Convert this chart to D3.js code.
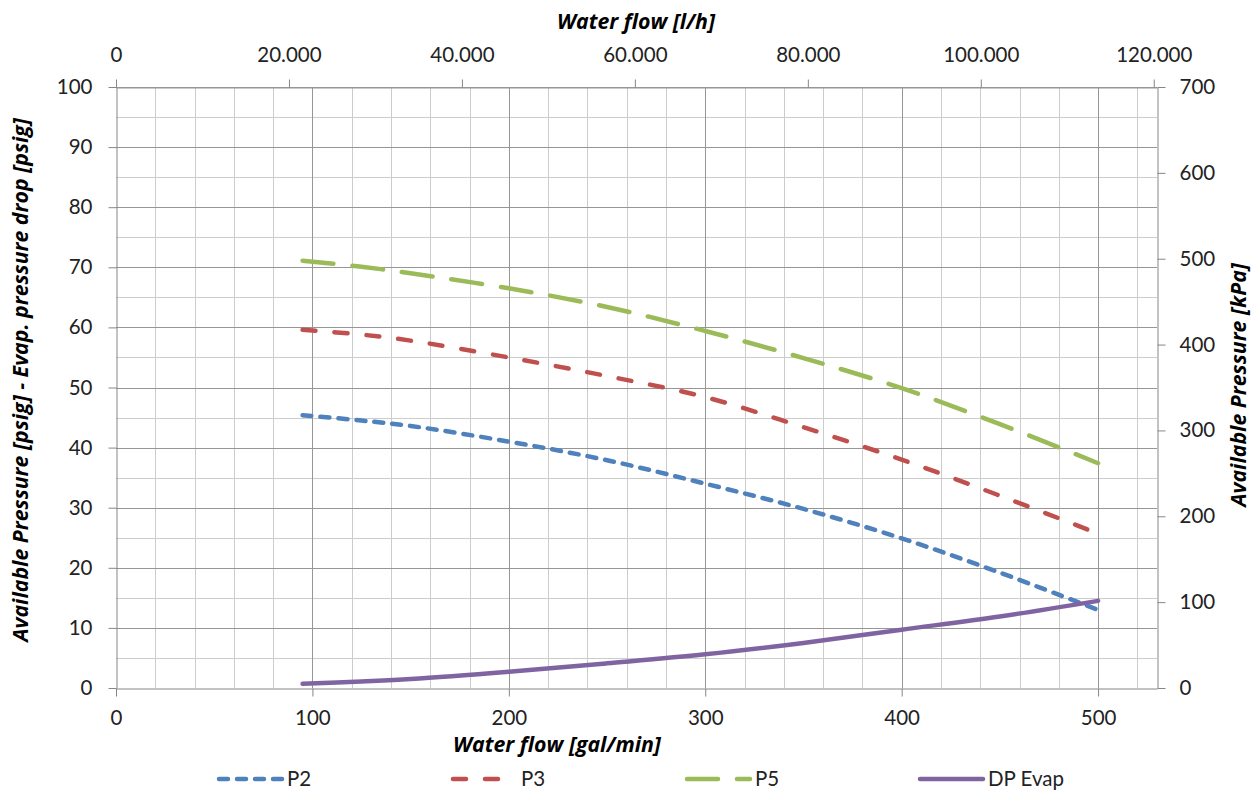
<!DOCTYPE html>
<html><head><meta charset="utf-8">
<script src="https://cdn.jsdelivr.net/npm/d3@7"></script>
<style>body{margin:0;background:#fff}svg text{font-family:Lato,"Open Sans",sans-serif}</style>
</head><body><svg id="c" width="1258" height="794"></svg>
<script>
// ---- data ----
const flowGpm = [95, 125, 150, 200, 250, 300, 350, 400, 450, 500];
const p2 = [45.4, 44.5, 43.6, 41.0, 37.9, 34.0, 29.8, 24.9, 19.2, 13.0];
const p3 = [59.6, 58.8, 57.8, 55.0, 51.9, 48.4, 43.4, 38.0, 32.0, 25.7];
const p5 = [71.1, 70.1, 69.0, 66.5, 63.4, 59.4, 54.9, 49.9, 43.9, 37.4];
const dpEvap = [0.7, 1.1, 1.5, 2.7, 4.1, 5.6, 7.5, 9.7, 11.9, 14.5];
const seriesNames = ["P2", "P3", "P5", "DP Evap"];
const bottomTicks = [0, 100, 200, 300, 400, 500];
const topTicks = [0, 20000, 40000, 60000, 80000, 100000, 120000];
const leftTicks = [0, 10, 20, 30, 40, 50, 60, 70, 80, 90, 100];
const rightTicks = [0, 100, 200, 300, 400, 500, 600, 700];

const svg = d3.select("#c");
const L = 116, R = 1157, T = 87, B = 688;
const gpmMax = 530, lphPerGpm = 227.125;
const x = d3.scaleLinear([0, gpmMax], [L, R]);
const xTop = d3.scaleLinear([0, gpmMax * lphPerGpm], [L, R]);
const y = d3.scaleLinear([0, 100], [B, T]);
const yR = d3.scaleLinear([0, 700], [B, T]);

const minorC = "#cccccc", majorC = "#969696", axisC = "#868686", txtC = "#222222";

// grid
const g = svg.append("g");
const vMinor = d3.range(20, gpmMax, 20).filter(v => v % 100 !== 0);
const vMajor = d3.range(100, gpmMax, 100);
const hMinor = d3.range(5, 100, 10);
const hMajor = d3.range(10, 101, 10);
g.selectAll(".vmin").data(vMinor).join("line")
  .attr("x1", d => Math.round(x(d)) + 0.5).attr("x2", d => Math.round(x(d)) + 0.5)
  .attr("y1", T).attr("y2", B).attr("stroke", minorC);
g.selectAll(".hmin").data(hMinor).join("line")
  .attr("y1", d => Math.round(y(d)) + 0.5).attr("y2", d => Math.round(y(d)) + 0.5)
  .attr("x1", L).attr("x2", R).attr("stroke", minorC);
g.selectAll(".vmaj").data(vMajor).join("line")
  .attr("x1", d => Math.round(x(d)) + 0.5).attr("x2", d => Math.round(x(d)) + 0.5)
  .attr("y1", T).attr("y2", B).attr("stroke", majorC);
g.selectAll(".hmaj").data(hMajor).join("line")
  .attr("y1", d => Math.round(y(d)) + 0.5).attr("y2", d => Math.round(y(d)) + 0.5)
  .attr("x1", L).attr("x2", R).attr("stroke", majorC);

// axes
const fs = 20.5;
const locale = d3.formatLocale({decimal: ",", thousands: ".", grouping: [3], currency: ["", ""]});
const fmtTop = locale.format(",d");

function styleAxis(sel) {
  sel.select(".domain").attr("stroke", axisC);
  sel.selectAll(".tick line").attr("stroke", axisC);
  sel.selectAll(".tick text").attr("fill", txtC).style("font-size", fs + "px").style("font-family", "Lato");
}
svg.append("g").attr("transform", `translate(${L + 0.5},0)`)
  .call(d3.axisLeft(y).tickValues(leftTicks).tickSize(8).tickSizeOuter(0).tickPadding(16))
  .call(styleAxis);
svg.append("g").attr("transform", `translate(${R + 0.5},0)`)
  .call(d3.axisRight(yR).tickValues(rightTicks).tickSize(8).tickSizeOuter(0).tickPadding(14))
  .call(styleAxis);
svg.append("g").attr("transform", `translate(0,${B + 0.5})`)
  .call(d3.axisBottom(x).tickValues(bottomTicks).tickSize(8).tickSizeOuter(0).tickPadding(14))
  .call(styleAxis);
svg.append("g").attr("transform", `translate(0,${T + 0.5})`)
  .call(d3.axisTop(xTop).tickValues(topTicks).tickFormat(d => fmtTop(d)).tickSize(8).tickSizeOuter(0).tickPadding(18))
  .call(styleAxis)
  .call(s => s.select(".domain").attr("stroke", majorC));

// axis titles
const titleStyle = s => s.attr("fill", "#000").style("font-size", "21.3px")
  .style("font-family", "'Open Sans', sans-serif")
  .style("font-weight", "bold").style("font-style", "italic").attr("text-anchor", "middle");
svg.append("text").attr("x", 636).attr("y", 29).text("Water flow [l/h]").call(titleStyle);
svg.append("text").attr("x", 557).attr("y", 752).text("Water flow [gal/min]").call(titleStyle);
svg.append("text").attr("transform", "translate(28,380) rotate(-90)")
  .text("Available Pressure [psig] - Evap. pressure drop [psig]").call(titleStyle);
svg.append("text").attr("transform", "translate(1246,385) rotate(-90)")
  .text("Available Pressure [kPa]").call(titleStyle);

// series
const colors = ["#4F81BD", "#C0504D", "#9BBB59", "#8064A2"];
const dashes = ["9,9", "13,19", "31,19", null];
const values = [p2, p3, p5, dpEvap];
const line = d3.line().x(d => x(d[0])).y(d => y(d[1])).curve(d3.curveCatmullRom.alpha(0.5));
values.forEach((vals, i) => {
  const pts = flowGpm.map((f, k) => [f, vals[k]]);
  svg.append("path").attr("d", line(pts)).attr("fill", "none")
    .attr("stroke", colors[i]).attr("stroke-width", 4.5)
    .attr("stroke-linecap", "round").attr("stroke-dasharray", dashes[i]);
});

// legend
const legX = [219, 453, 687, 920];
const legY = 779;
seriesNames.forEach((n, i) => {
  svg.append("line").attr("x1", legX[i]).attr("x2", legX[i] + 63).attr("y1", legY).attr("y2", legY)
    .attr("stroke", colors[i]).attr("stroke-width", 4.5).attr("stroke-linecap", "round")
    .attr("stroke-dasharray", dashes[i]);
  svg.append("text").attr("x", legX[i] + 68).attr("y", legY).attr("dy", "0.35em")
    .attr("fill", txtC).style("font-size", fs + "px").text(n);
});
</script>
</body></html>
